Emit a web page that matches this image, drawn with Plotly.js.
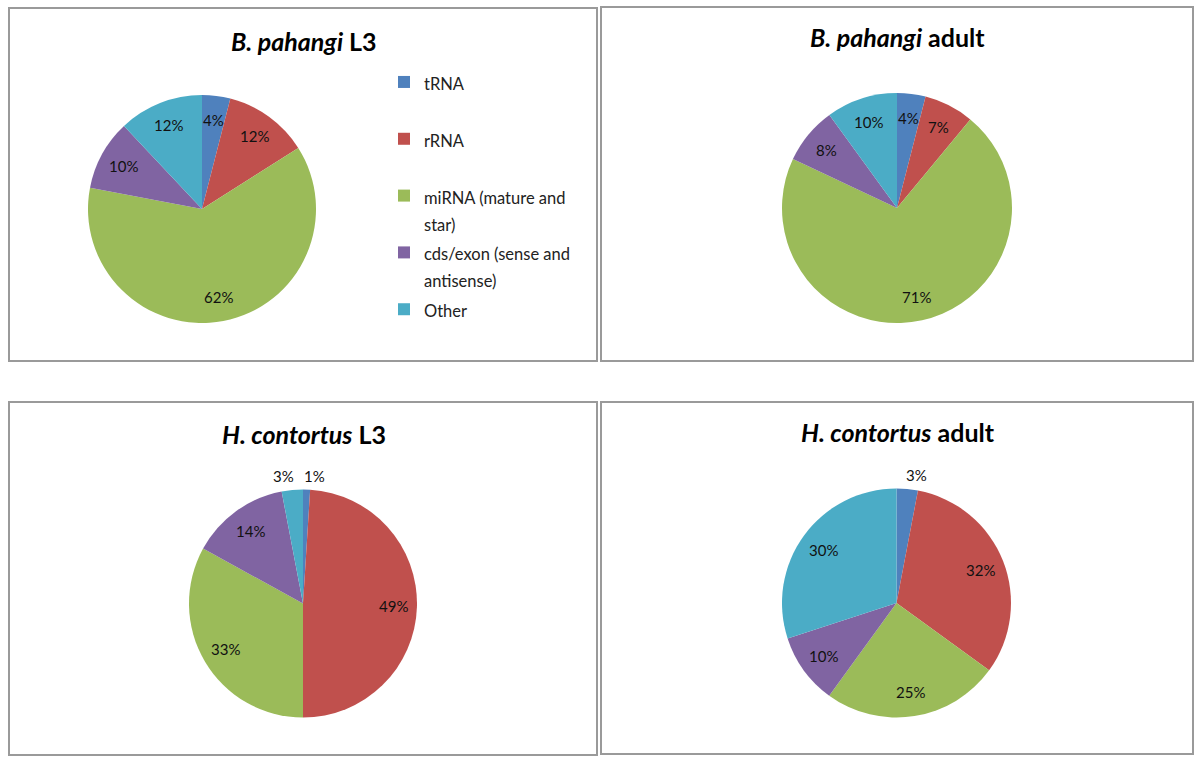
<!DOCTYPE html>
<html>
<head>
<meta charset="utf-8">
<script src="https://cdn.plot.ly/plotly-3.0.1.min.js"></script>
<style>html,body{margin:0;padding:0;background:#fff;}#chart{width:1200px;height:763px;}</style>
</head>
<body>
<div id="chart"></div>
<script>
// ---- data ----
var categories = ['tRNA', 'rRNA', 'miRNA (mature and star)', 'cds/exon (sense and antisense)', 'Other'];
var legendLines = [['tRNA'], ['rRNA'], ['miRNA (mature and', 'star)'], ['cds/exon (sense and', 'antisense)'], ['Other']];
var colors = ['#4F81BD', '#C0504D', '#9BBB59', '#8064A2', '#4BACC6'];
var bpL3 = [4, 12, 62, 10, 12];
var bpAdult = [4, 7, 71, 8, 10];
var hcL3 = [1, 49, 33, 14, 3];
var hcAdult = [3, 32, 25, 10, 30];
var titles = ['<b><i>B. pahangi</i> L3</b>', '<b><i>B. pahangi</i> adult</b>',
              '<b><i>H. contortus</i> L3</b>', '<b><i>H. contortus</i> adult</b>'];

// ---- layout helpers (pixels -> paper) ----
var W = 1200, H = 763;
function px(x) { return x / W; }
function py(y) { return 1 - y / H; }
var FONT = 'Lato, "Open Sans", sans-serif';
var pad = '\u00a0';
var legendLabels = legendLines.map(function (l) {
  var a = l.slice();
  while (a.length < 2) a.push(pad);
  return a.map(function (s) { return '<span style="font-size:16.5px">' + s + '</span>'; }).join('<br>');
});

var pies = [
  {values: bpL3,    box: [87, 95, 317, 323],   outside: [0, 0, 0, 0, 0], legend: true},
  {values: bpAdult, box: [782, 93, 1012, 323], outside: [0, 0, 0, 0, 0], legend: false},
  {values: hcL3,    box: [189, 489, 417, 718], outside: [1, 0, 0, 0, 1], legend: false},
  {values: hcAdult, box: [782, 488, 1011, 718], outside: [1, 0, 0, 0, 0], legend: false}
];

var data = pies.map(function (p) {
  return {
    type: 'pie',
    labels: legendLabels,
    values: p.values,
    sort: false,
    direction: 'clockwise',
    rotation: 0,
    marker: {colors: colors, line: {width: 0}},
    textinfo: 'none',
    showlegend: p.legend,
    hoverinfo: 'percent',
    domain: {x: [px(p.box[0]), px(p.box[2])], y: [py(p.box[3]), py(p.box[1])]}
  };
});

// percentage labels, placed from the data (slice mid-angles)
var annotations = [];
pies.forEach(function (p) {
  var cx = (p.box[0] + p.box[2]) / 2, cy = (p.box[1] + p.box[3]) / 2;
  var r = Math.min(p.box[2] - p.box[0], p.box[3] - p.box[1]) / 2;
  var total = p.values.reduce(function (a, b) { return a + b; }, 0);
  var cum = 0;
  p.values.forEach(function (v, i) {
    var th = 2 * Math.PI * (cum + v / 2) / total;
    cum += v;
    var out = p.outside[i];
    var rr = out ? r + 14 : 0.79 * r;
    var x = cx + rr * Math.sin(th), y = cy - rr * Math.cos(th);
    var anchor = 'center', shift = 0;
    if (out) { anchor = Math.sin(th) >= 0 ? 'left' : 'right'; shift = Math.sin(th) >= 0 ? -5 : 5; }
    annotations.push({text: Math.round(100 * v / total) + '%', xref: 'paper', yref: 'paper',
      x: px(x), y: py(y), xanchor: anchor, yanchor: 'middle', xshift: shift, showarrow: false,
      font: {family: FONT, size: 15, color: '#111'}});
  });
});

var panels = [[9, 8, 597, 361], [601, 7, 1193, 361], [9, 402, 597, 755], [601, 402, 1193, 754]];
var titlePos = [[304, 41], [897, 37], [304, 434], [898, 432]];

var shapes = panels.map(function (b) {
  return {type: 'rect', xref: 'paper', yref: 'paper',
    x0: px(b[0]), x1: px(b[2]), y0: py(b[3]), y1: py(b[1]),
    line: {color: '#9a9a9a', width: 2}, fillcolor: 'rgba(0,0,0,0)'};
});
titles.forEach(function (t, i) {
  annotations.push({text: t, xref: 'paper', yref: 'paper', x: px(titlePos[i][0]), y: py(titlePos[i][1]),
    xanchor: 'center', yanchor: 'middle', showarrow: false,
    font: {family: FONT, size: 25, color: '#000'}});
});

var layout = {
  width: W, height: H,
  margin: {l: 0, r: 0, t: 0, b: 0},
  paper_bgcolor: '#fff',
  font: {family: FONT, color: '#111'},
  showlegend: true,
  legend: {x: px(384), y: py(62), xanchor: 'left', yanchor: 'top',
    font: {family: FONT, size: 20.7, color: '#222'}, valign: 'top', traceorder: 'normal',
    bgcolor: 'rgba(0,0,0,0)'},
  shapes: shapes,
  annotations: annotations
};

Plotly.newPlot('chart', data, layout, {displayModeBar: false, staticPlot: true});
</script>
</body>
</html>
